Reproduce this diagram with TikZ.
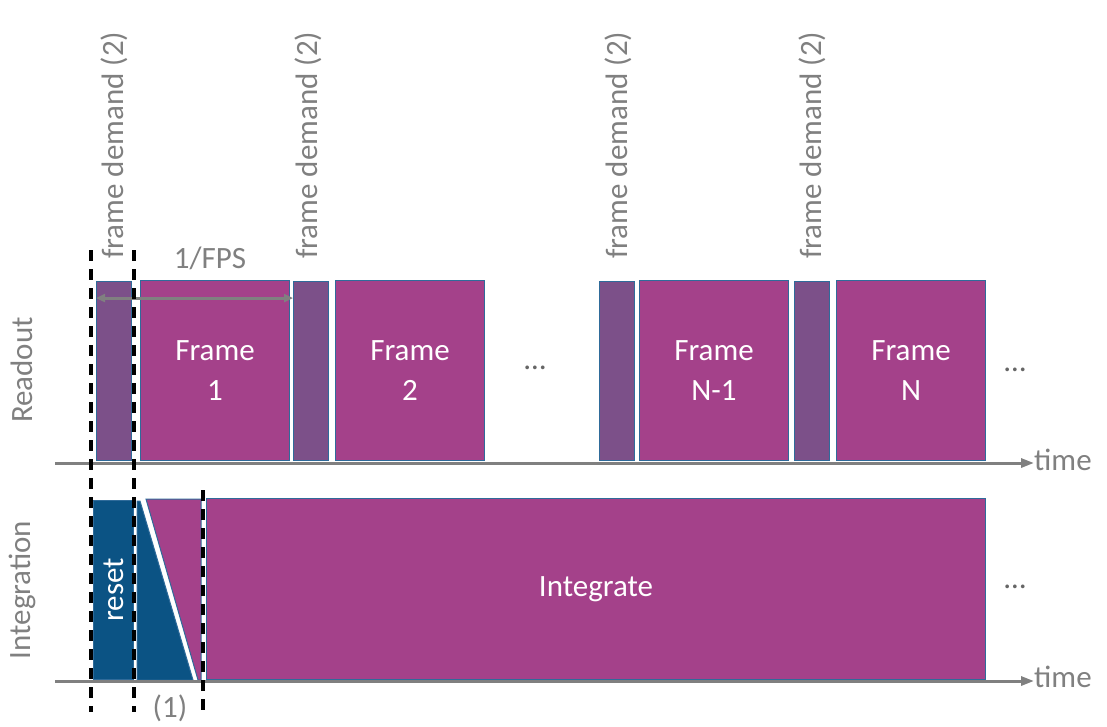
\documentclass[tikz,border=0pt]{standalone}
\usepackage{fontspec}
\setmainfont{Carlito}
\usetikzlibrary{positioning, arrows.meta, calc}
\definecolor{FrameMagenta}{HTML}{A4418A}
\definecolor{DemandPurple}{HTML}{7C5089}
\definecolor{ResetBlue}{HTML}{0B5384}
\definecolor{EdgeBlue}{HTML}{2F6B9A}
\definecolor{AxisGray}{HTML}{808080}

\begin{document}
\begin{tikzpicture}[
    x=1pt, y=-1pt,
    txt/.style={font=\fontsize{31}{40}\selectfont},
    frame/.style={rectangle, draw=EdgeBlue, line width=1pt, fill=FrameMagenta, text=white,
                  align=center, inner sep=0pt, minimum width=149pt, minimum height=180pt,
                  anchor=south west, txt},
    demand/.style={rectangle, draw=EdgeBlue, line width=1pt, fill=DemandPurple, inner sep=0pt,
                   minimum width=35pt, minimum height=179pt, anchor=south west},
    axis/.style={-{Triangle[length=13pt, width=9pt]}, AxisGray, line width=3pt},
    guide/.style={black, line width=4.5pt, dash pattern=on 11pt off 8pt},
    glabel/.style={txt, text=AxisGray},
    dots/.style={txt, text=black!60}
]
  \useasboundingbox (0,0) rectangle (1107,726);

  % Readout lane
  \foreach \x/\n in {96/1, 293/2, 599/3, 794/4}{
    \node[demand] (d\n) at (\x,461) {};
  }
  \node[frame] (f1) at (140,461) {Frame\\1};
  \node[frame] (f2) at (335,461) {Frame\\2};
  \node[frame] (f3) at (639,461) {Frame\\N-1};
  \node[frame] (f4) at (836,461) {Frame\\N};
  \node[dots] (rd1) at (535,368) {\ldots};
  \node[dots] (rd2) at (1015,370) {\ldots};

  % Frame demand labels
  \foreach \x/\n in {114/1, 308/2, 618/3, 812/4}{
    \node[glabel, rotate=90, anchor=west, inner sep=0pt] (fd\n) at (\x,259) {frame demand (2)};
  }

  % 1/FPS
  \draw[{Triangle[length=9pt, width=8pt]}-{Triangle[length=9pt, width=8pt]}, AxisGray, line width=3pt]
    ($(d1.north west)+(0,17)$) -- ($(d2.north west)+(0,17)$);
  \node[glabel] (fps) at (210,258) {1/FPS};

  % Integration lane
  \node[rectangle, draw=EdgeBlue, line width=1pt, fill=ResetBlue, inner sep=0pt,
        minimum width=40pt, minimum height=179pt, anchor=south west] (rst) at (93,680) {};
  \node[txt, text=white, rotate=90] at (rst.center) {reset};
  \draw[EdgeBlue, line width=1pt, fill=ResetBlue] (137,501) -- (140,501) -- (193,680) -- (137,680) -- cycle;
  \draw[EdgeBlue, line width=1pt, fill=FrameMagenta] (146,499) -- (201,499) -- (201,680) -- (198,680) -- cycle;
  \node[frame, minimum width=779pt, minimum height=181pt] (intg) at (206,680) {Integrate};
  \node[dots] (id1) at (1015,587) {\ldots};

  % Axes
  \coordinate (r0) at (55,463);
  \coordinate (i0) at (55,681);
  \node[glabel, anchor=west, inner sep=0pt] (t1) at (1034,460) {time};
  \node[glabel, anchor=west, inner sep=0pt] (t2) at (1034,677) {time};
  \draw[axis] (r0) -- (t1.west |- r0);
  \draw[axis] (i0) -- (t2.west |- i0);
  \node[glabel, rotate=90] (lr) at (22,370) {Readout};
  \node[glabel, rotate=90] (li) at (22,590) {Integration};

  % Guide lines
  \draw[guide] (91,250) -- (91,712);
  \draw[guide] (134,250) -- (134,712);
  \draw[guide] (203,490) -- (203,712);
  \node[glabel] (one) at (170,708) {(1)};
\end{tikzpicture}
\end{document}
